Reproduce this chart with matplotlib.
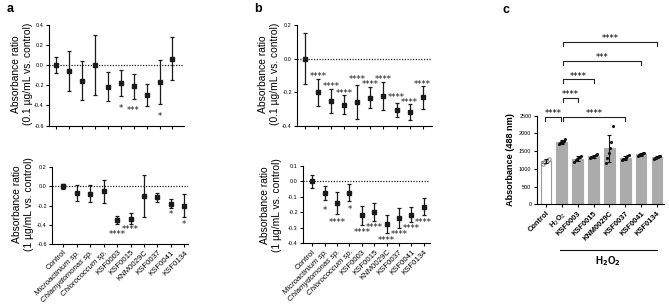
import matplotlib.pyplot as plt
import numpy as np

plt.rcParams["font.family"] = ["Liberation Sans", "DejaVu Sans"]
plt.rcParams["axes.linewidth"] = 0.8

W, H = 669, 308

STRAINS = [
    "Control", "Microactinium sp.", "Chlamydomonas sp.", "Chlorococcum sp.",
    "KSF0003", "KSF0015", "KNM0029C", "KSF0037", "KSF0041", "KSF0134",
]
ITALIC = [False, True, True, True, False, False, False, False, False, False]

# panel a: 0.1 ug/mL
a_low_mean = [0.0, -0.06, -0.154, 0.0, -0.212, -0.179, -0.21, -0.298, -0.169, 0.065]
a_low_err = [0.08, 0.2, 0.194, 0.30, 0.142, 0.129, 0.127, 0.106, 0.219, 0.214]
a_low_sig = ["", "", "", "", "", "*", "***", "", "*", ""]
a_low_sig_y = [0, 0, 0, 0, 0, -0.41, -0.43, 0, -0.49, 0]

# panel a: 1 ug/mL
a_high_mean = [0.0, -0.07, -0.074, -0.052, -0.352, -0.337, -0.103, -0.114, -0.18, -0.2]
a_high_err = [0.03, 0.082, 0.089, 0.117, 0.042, 0.057, 0.22, 0.043, 0.048, 0.117]
a_high_sig = ["", "", "", "", "****", "****", "", "", "*", "*"]
a_high_sig_y = [0, 0, 0, 0, -0.47, -0.425, 0, 0, -0.265, -0.366]

# panel b: 0.1 ug/mL
b_low_mean = [0.0, -0.202, -0.254, -0.274, -0.259, -0.232, -0.224, -0.307, -0.318, -0.231]
b_low_err = [0.15, 0.079, 0.07, 0.055, 0.103, 0.065, 0.084, 0.044, 0.049, 0.068]
b_low_sig = ["", "****", "****", "****", "****", "****", "****", "****", "****", "****"]
b_low_sig_y = [0, -0.092, -0.153, -0.195, -0.112, -0.142, -0.112, -0.219, -0.249, -0.14]

# panel b: 1 ug/mL
b_high_mean = [0.0, -0.075, -0.14, -0.072, -0.22, -0.197, -0.277, -0.237, -0.214, -0.165]
b_high_err = [0.042, 0.046, 0.07, 0.055, 0.062, 0.058, 0.057, 0.067, 0.05, 0.055]
b_high_sig = ["", "*", "****", "*", "****", "****", "****", "****", "****", "****"]
b_high_sig_y = [0, -0.17, -0.249, -0.164, -0.315, -0.284, -0.363, -0.328, -0.288, -0.248]

# panel c: absorbance at 488 nm
c_groups = ["Control", "H$_2$O$_2$", "KSF0003", "KSF0015", "KNM0029C", "KSF0037", "KSF0041", "KSF0134"]
c_points = [
    [1150, 1180, 1200, 1230, 1260, 1280],
    [1690, 1720, 1750, 1770, 1790, 1830],
    [1180, 1250, 1290, 1320, 1340, 1360],
    [1310, 1330, 1340, 1360, 1380, 1420],
    [1170, 1300, 1450, 1600, 1750, 2220],
    [1240, 1270, 1290, 1310, 1350, 1390],
    [1360, 1380, 1400, 1420, 1440, 1460],
    [1290, 1310, 1320, 1340, 1350, 1370],
]
# (from group, to group, bracket height, label)
c_brackets = [
    (0, 1, 2470, "****"),
    (1, 5, 2470, "****"),
    (1, 2, 3010, "****"),
    (1, 3, 3530, "****"),
    (1, 6, 4050, "***"),
    (1, 7, 4590, "****"),
]

fig = plt.figure(figsize=(W / 100, H / 100), dpi=100)


def px_axes(left, right, y_top_px, y_bot_px, y_top_val, y_bot_val, ylim):
    # place axes so that y_top_val sits at y_top_px and y_bot_val at y_bot_px
    scale = (y_bot_px - y_top_px) / (y_top_val - y_bot_val)
    top = y_top_px - (ylim[1] - y_top_val) * scale
    bot = y_bot_px + (y_bot_val - ylim[0]) * scale
    ax = fig.add_axes([left / W, 1 - bot / H, (right - left) / W, (bot - top) / H])
    ax.set_ylim(*ylim)
    return ax


def ratio_panel(ax, mean, err, sig, sig_y, first_px, last_px, left_px, right_px,
                yticks, labels):
    n = len(mean)
    sp = (last_px - first_px) / (n - 1)
    ax.set_xlim((left_px - first_px) / sp, (right_px - first_px) / sp)
    x = np.arange(n)
    ax.axhline(0, ls=(0, (1, 1.2)), color="#222222", lw=0.9, zorder=1)
    ax.errorbar(x, mean, yerr=err, fmt="s", color="#1a1a1a", ms=2.6,
                elinewidth=0.9, capsize=1.6, capthick=0.9, zorder=3)
    for xi, s, sy in zip(x, sig, sig_y):
        if s:
            ax.annotate(s, (xi, sy), xytext=(0, -3.6), textcoords="offset points",
                        ha="center", va="baseline", fontsize=6.2,
                        family="DejaVu Sans", color="#1a1a1a")
    for side in ("top", "right"):
        ax.spines[side].set_visible(False)
    ax.set_yticks(yticks)
    ax.set_yticklabels([f"{t:.1f}" for t in yticks], fontsize=4)
    ax.set_xticks(x)
    ax.tick_params(length=2.5, width=0.8, pad=1.2)
    if labels:
        ax.set_xticklabels(STRAINS, rotation=45, ha="right", rotation_mode="anchor",
                           fontsize=5.6)
        for lab, it in zip(ax.get_xticklabels(), ITALIC):
            if it:
                lab.set_style("italic")
    else:
        ax.set_xticklabels([])


def fig_text(x, y, s, **kw):
    fig.text(x / W, 1 - y / H, s, **kw)


# panel a
ax = px_axes(49, 184, 25, 125.5, 0.4, -0.6, (-0.6, 0.4))
ratio_panel(ax, a_low_mean, a_low_err, a_low_sig, a_low_sig_y, 55.7, 172.5, 49, 184,
            [0.4, 0.2, 0.0, -0.2, -0.4, -0.6], False)
ax = px_axes(52, 188, 167.3, 244, 0.2, -0.6, (-0.6, 0.2))
ratio_panel(ax, a_high_mean, a_high_err, a_high_sig, a_high_sig_y, 63.3, 184.3, 52, 188,
            [0.2, 0.0, -0.2, -0.4, -0.6], True)

# panel b
ax = px_axes(297, 432, 25, 125.7, 0.2, -0.4, (-0.4, 0.2))
ratio_panel(ax, b_low_mean, b_low_err, b_low_sig, b_low_sig_y, 305, 422.7, 297, 432,
            [0.2, 0.0, -0.2, -0.4], False)
ax = px_axes(303, 430, 166, 243.3, 0.1, -0.4, (-0.4, 0.1))
ratio_panel(ax, b_high_mean, b_high_err, b_high_sig, b_high_sig_y, 312.3, 423.7, 303, 430,
            [0.1, 0.0, -0.1, -0.2, -0.3, -0.4], True)

# y labels and panel letters
lab_kw = dict(rotation=90, ha="center", va="center", multialignment="center",
              fontsize=7.4, linespacing=1.15)
fig_text(22, 74, "Absorbance ratio\n(0.1 µg/mL vs. control)", **lab_kw)
fig_text(23, 204, "Absorbance ratio\n(1 µg/mL vs. control)", **lab_kw)
fig_text(269, 74, "Absorbance ratio\n(0.1 µg/mL vs. control)", **lab_kw)
fig_text(271, 205, "Absorbance ratio\n(1 µg/mL vs. control)", **lab_kw)
for x, y, s in [(10, 9, "a"), (258, 9, "b"), (506, 10, "c")]:
    fig_text(x, y, s, ha="center", va="center", fontsize=9, fontweight="bold")

# panel c
first_c, sp_c = 546.0, 15.85
axc = px_axes(537, 664, 115.7, 204.3, 2500, 0, (0, 2500))
axc.set_xlim((537 - first_c) / sp_c, (664 - first_c) / sp_c)
xc = np.arange(len(c_groups))
means = [np.mean(p) for p in c_points]
sds = [np.std(p, ddof=1) for p in c_points]
face = ["white"] + ["#ababab"] * (len(c_groups) - 1)
edge = ["#9a9a9a"] + ["#ababab"] * (len(c_groups) - 1)
axc.bar(xc, means, width=0.68, color=face, edgecolor=edge, linewidth=0.8, zorder=1)
offs = np.array([-0.21, -0.13, -0.05, 0.05, 0.13, 0.21])
for i, pts in enumerate(c_points):
    if i == 0:
        axc.scatter(i + offs, pts, s=6, facecolor="white", edgecolor="#777777",
                    linewidth=0.6, zorder=3)
    else:
        axc.scatter(i + offs, pts, s=5, color="#111111", linewidth=0, zorder=3)
axc.errorbar(xc, means, yerr=sds, fmt="none", ecolor="#111111", elinewidth=0.8,
             capsize=1.6, capthick=0.8, zorder=4)
for side in ("top", "right"):
    axc.spines[side].set_visible(False)
axc.set_yticks([0, 500, 1000, 1500, 2000, 2500])
axc.set_yticklabels(["0", "500", "1000", "1500", "2000", "2500"], fontsize=4)
axc.set_xticks(xc)
axc.set_xticklabels(c_groups, rotation=45, ha="right", rotation_mode="anchor",
                    fontsize=5.4, fontweight="bold")
axc.tick_params(length=2.5, width=0.8, pad=1.5)
fig_text(511, 160, "Absorbance (488 nm)", rotation=90, ha="center", va="center",
         fontsize=6.6, fontweight="bold")

leg = 110
for i, j, h, s in c_brackets:
    x0 = i + (0.08 if i == 1 else -0.05)
    x1 = j - (0.06 if (i, j) == (0, 1) else 0.0)
    axc.plot([x0, x0, x1, x1], [h - leg, h, h, h - leg], color="#222222", lw=0.8,
             clip_on=False)
    axc.annotate(s, ((x0 + x1) / 2, h + 150), xytext=(0, -3.6),
                 textcoords="offset points", ha="center", va="baseline",
                 fontsize=6.2, family="DejaVu Sans", annotation_clip=False)

# H2O2 group line under the labels
fig.add_artist(plt.Line2D([560 / W, 657 / W], [1 - 250 / H, 1 - 250 / H],
                          color="#111111", lw=0.8))
fig_text(608, 261, "H$_\\mathbf{2}$O$_\\mathbf{2}$", ha="center", va="center",
         fontsize=7, fontweight="bold")

fig.savefig("out.png", dpi=100)
